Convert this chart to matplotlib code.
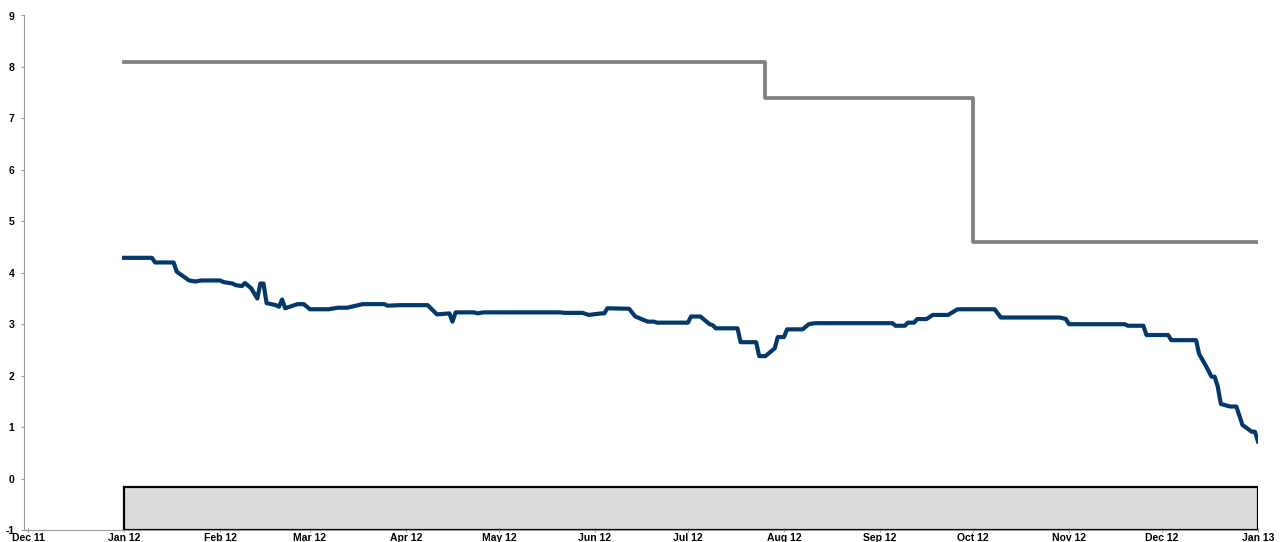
import matplotlib
matplotlib.use("Agg")
import matplotlib.pyplot as plt
import matplotlib.dates as mdates
import pandas as pd
import numpy as np

# ---- data ----
blue_dates = [
    "2012-01-01", "2012-01-10", "2012-01-11", "2012-01-17", "2012-01-18", "2012-01-22",
    "2012-01-24", "2012-01-26", "2012-02-01", "2012-02-02", "2012-02-05", "2012-02-06",
    "2012-02-08", "2012-02-09", "2012-02-11", "2012-02-13", "2012-02-14", "2012-02-15",
    "2012-02-16", "2012-02-19", "2012-02-20", "2012-02-21", "2012-02-22", "2012-02-24",
    "2012-02-26", "2012-02-28", "2012-03-01", "2012-03-07", "2012-03-10", "2012-03-13",
    "2012-03-18", "2012-03-25", "2012-03-26", "2012-03-30", "2012-04-08", "2012-04-11",
    "2012-04-15", "2012-04-16", "2012-04-17", "2012-04-23", "2012-04-24", "2012-04-26",
    "2012-05-21", "2012-05-22", "2012-05-28", "2012-05-30", "2012-06-03", "2012-06-04",
    "2012-06-05", "2012-06-12", "2012-06-14", "2012-06-18", "2012-06-20", "2012-06-21",
    "2012-07-01", "2012-07-02", "2012-07-05", "2012-07-08", "2012-07-09", "2012-07-10",
    "2012-07-17", "2012-07-18", "2012-07-23", "2012-07-24", "2012-07-26", "2012-07-29",
    "2012-07-30", "2012-08-01", "2012-08-02", "2012-08-06", "2012-08-07", "2012-08-09",
    "2012-08-11", "2012-09-05", "2012-09-06", "2012-09-09", "2012-09-10", "2012-09-12",
    "2012-09-13", "2012-09-16", "2012-09-18", "2012-09-23", "2012-09-26", "2012-10-08",
    "2012-10-10", "2012-10-29", "2012-10-31", "2012-11-01", "2012-11-19", "2012-11-20",
    "2012-11-25", "2012-11-26", "2012-12-03", "2012-12-04", "2012-12-12", "2012-12-13",
    "2012-12-15", "2012-12-17", "2012-12-18", "2012-12-19", "2012-12-20", "2012-12-23",
    "2012-12-25", "2012-12-27", "2012-12-30", "2012-12-31", "2013-01-01",
]
blue_values = [
    4.29, 4.29, 4.20, 4.20, 4.02, 3.85,
    3.83, 3.85, 3.85, 3.82, 3.79, 3.76,
    3.74, 3.80, 3.70, 3.50, 3.79, 3.79,
    3.41, 3.37, 3.34, 3.48, 3.31, 3.35,
    3.39, 3.39, 3.29, 3.29, 3.32, 3.32,
    3.39, 3.39, 3.36, 3.37, 3.37, 3.19,
    3.21, 3.05, 3.23, 3.23, 3.21, 3.23,
    3.23, 3.22, 3.22, 3.18, 3.21, 3.21,
    3.31, 3.30, 3.15, 3.05, 3.05, 3.03,
    3.03, 3.15, 3.15, 3.00, 2.98, 2.92,
    2.92, 2.65, 2.65, 2.38, 2.38, 2.53,
    2.75, 2.75, 2.90, 2.90, 2.90, 3.00,
    3.02, 3.02, 2.97, 2.97, 3.03, 3.03,
    3.10, 3.10, 3.18, 3.18, 3.29, 3.29,
    3.13, 3.13, 3.10, 3.00, 3.00, 2.97,
    2.97, 2.79, 2.79, 2.69, 2.69, 2.42,
    2.21, 1.98, 1.98, 1.79, 1.45, 1.40,
    1.40, 1.04, 0.91, 0.91, 0.72,
]

grey_dates = ["2012-01-01", "2012-07-26", "2012-10-01", "2013-01-01"]
grey_values = [8.1, 7.4, 4.6, 4.6]

shade_start = "2012-01-01"
shade_end = "2013-01-01"
shade_bottom = -1.0
shade_top = -0.17

tick_months = pd.date_range("2011-12-01", "2013-01-01", freq="MS")

# ---- figure ----
plt.rcParams["font.family"] = ["Liberation Sans", "DejaVu Sans"]
plt.rcParams["axes.unicode_minus"] = False
fig = plt.figure(figsize=(12.86, 5.42), dpi=100)
ax = fig.add_axes([24 / 1286, 1 - 530 / 542, (1258 - 24) / 1286, (530 - 15.5) / 542])

bd = pd.to_datetime(blue_dates)
gd = pd.to_datetime(grey_dates)

# shaded rectangle
ax.fill_between(pd.to_datetime([shade_start, shade_end]), shade_bottom, shade_top,
                facecolor="#dcdcdc", edgecolor="none", zorder=1)
ax.plot(pd.to_datetime([shade_start, shade_start, shade_end, shade_end, shade_start]),
        [shade_bottom, shade_top, shade_top, shade_bottom, shade_bottom],
        color="black", lw=1.6, zorder=2, solid_joinstyle="miter")

ax.step(gd, grey_values, where="post", color="#808080", lw=2.7, zorder=3)
ax.plot(bd, blue_values, color="#03386b", lw=3.0, zorder=4, solid_joinstyle="round")

ax.set_xlim(pd.Timestamp("2011-12-01") - pd.Timedelta(days=1.3), pd.Timestamp("2013-01-01"))
ax.set_ylim(-1, 9)
ax.set_yticks(np.arange(-1, 10, 1))
ax.set_xticks(tick_months)
ax.xaxis.set_major_formatter(mdates.DateFormatter("%b %y"))

for s in ["top", "right"]:
    ax.spines[s].set_visible(False)
for s in ["left", "bottom"]:
    ax.spines[s].set_color("#999999")
    ax.spines[s].set_linewidth(0.8)

ax.tick_params(axis="y", direction="out", length=2.5, width=0.8, color="#999999",
               pad=4.5, labelsize=7.5)
ax.tick_params(axis="x", direction="inout", length=3, width=0.8, color="#999999",
               pad=0.5, labelsize=7.5)
for lab in ax.get_xticklabels() + ax.get_yticklabels():
    lab.set_fontweight("bold")

fig.savefig("out.png", dpi=100)
